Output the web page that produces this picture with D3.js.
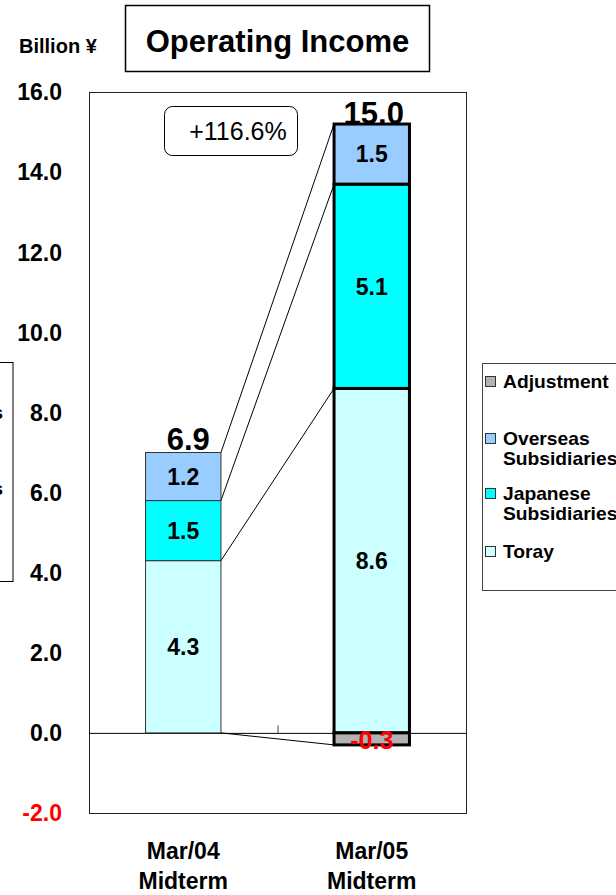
<!DOCTYPE html>
<html>
<head>
<meta charset="utf-8">
<script src="https://cdn.jsdelivr.net/npm/d3@7"></script>
<style>
  html, body { margin: 0; padding: 0; background: #fff; }
  svg { display: block; font-family: "Liberation Sans", Arial, sans-serif; }
</style>
</head>
<body>
<svg id="chart" width="616" height="895"></svg>
<script>
// Operating income by segment, billion yen
const categories = ["Mar/04 Midterm", "Mar/05 Midterm"];
const catLines = [["Mar/04", "Midterm"], ["Mar/05", "Midterm"]];
const toray = [4.3, 8.6];
const japaneseSubs = [1.5, 5.1];
const overseasSubs = [1.2, 1.5];
const adjustment = [0.0, -0.3];
const totals = ["6.9", "15.0"];
const growthLabel = "+116.6%";
const yTicks = [-2, 0, 2, 4, 6, 8, 10, 12, 14, 16];
const seriesNames = ["Toray", "Japanese Subsidiaries", "Overseas Subsidiaries"];
const seriesColors = { "Toray": "#CCFFFF", "Japanese Subsidiaries": "#00FFFF", "Overseas Subsidiaries": "#99CCFF", "Adjustment": "#B2B2B2" };
const legendItems = [["Adjustment"], ["Overseas", "Subsidiaries"], ["Japanese", "Subsidiaries"], ["Toray"]];
const legendKeys = ["Adjustment", "Overseas Subsidiaries", "Japanese Subsidiaries", "Toray"];

// one decimal, ASCII hyphen for negatives
const fmt = v => d3.format(".1f")(v).replace("\u2212", "-");

const svg = d3.select("#chart");
const plot = { left: 89, right: 466, top: 92, bottom: 813 };

const y = d3.scaleLinear().domain([-2, 16]).range([plot.bottom, plot.top]);
const x = d3.scaleBand().domain(categories).range([plot.left, plot.right]).padding(0);
const barW = x.bandwidth() * 0.4;
const barX = c => x(c) + (x.bandwidth() - barW) / 2;

// Partially visible panel at the left edge
svg.append("rect").attr("x", -120).attr("y", 362.5).attr("width", 133).attr("height", 219)
  .attr("fill", "#fff").attr("stroke", "#000").attr("stroke-width", 1);
[412, 488].forEach(yy => {
  svg.append("text").attr("x", 3).attr("y", yy).attr("dy", "0.35em").attr("text-anchor", "end")
    .attr("font-weight", "bold").attr("font-size", 19).text("s");
});

// Title
svg.append("rect").attr("x", 125.5).attr("y", 5.5).attr("width", 304).attr("height", 66)
  .attr("fill", "#fff").attr("stroke", "#000").attr("stroke-width", 1.5);
svg.append("text").attr("x", 277.5).attr("y", 52).attr("text-anchor", "middle")
  .attr("font-weight", "bold").attr("font-size", 31).text("Operating Income");
svg.append("text").attr("x", 19).attr("y", 53).attr("font-weight", "bold").attr("font-size", 20).text("Billion ¥");

// Plot frame
svg.append("rect").attr("x", plot.left + 0.5).attr("y", plot.top + 0.5)
  .attr("width", plot.right - plot.left).attr("height", plot.bottom - plot.top)
  .attr("fill", "#fff").attr("stroke", "#222").attr("stroke-width", 1);

// Y axis labels
svg.append("g").selectAll("text").data(yTicks).join("text")
  .attr("x", 62).attr("y", d => y(d)).attr("dy", "0.36em").attr("text-anchor", "end")
  .attr("font-weight", "bold").attr("font-size", 23)
  .attr("fill", d => d < 0 ? "#FF0000" : "#000")
  .text(d => fmt(d));

// Zero line with category divider tick
const zeroAxis = d3.axisBottom(x).tickSize(0).tickFormat("");
const zg = svg.append("g").attr("transform", `translate(0,${y(0) + 0.5})`).call(zeroAxis);
zg.select(".domain").attr("stroke", "#000").attr("d", `M${plot.left},0H${plot.right}`);
zg.append("line").attr("x1", x(categories[1]) + 0.5).attr("x2", x(categories[1]) + 0.5)
  .attr("y1", 0).attr("y2", -8).attr("stroke", "#444");

// Stacked segments
const stackData = categories.map((c, i) => ({ cat: c, "Toray": toray[i], "Japanese Subsidiaries": japaneseSubs[i], "Overseas Subsidiaries": overseasSubs[i] }));
const stacked = d3.stack().keys(seriesNames)(stackData);

// Connector lines between the two bars
const x0r = barX(categories[0]) + barW;
const x1l = barX(categories[1]);
const conn = [[0, adjustment[1]]];
stacked.forEach(s => conn.push([s[0][1], s[1][1]]));
svg.append("g").selectAll("line").data(conn).join("line")
  .attr("x1", x0r).attr("y1", d => y(d[0])).attr("x2", x1l).attr("y2", d => y(d[1]))
  .attr("stroke", "#000").attr("stroke-width", 1);

const strokeW = [1, 3];
const strokeC = ["#333", "#000"];
const segG = svg.append("g");
stacked.forEach(s => {
  s.forEach((d, i) => {
    const c = categories[i];
    segG.append("rect").attr("x", barX(c)).attr("y", y(d[1]))
      .attr("width", barW).attr("height", y(d[0]) - y(d[1]))
      .attr("fill", seriesColors[s.key]).attr("stroke", strokeC[i]).attr("stroke-width", strokeW[i]);
  });
});
// Adjustment (negative) segment
adjustment.forEach((v, i) => {
  if (v === 0) return;
  const c = categories[i];
  segG.append("rect").attr("x", barX(c)).attr("y", y(0)).attr("width", barW).attr("height", y(v) - y(0))
    .attr("fill", seriesColors["Adjustment"]).attr("stroke", strokeC[i]).attr("stroke-width", strokeW[i]);
});

// Segment value labels
stacked.forEach(s => {
  s.forEach((d, i) => {
    const c = categories[i];
    svg.append("text").attr("x", barX(c) + barW / 2).attr("y", (y(d[0]) + y(d[1])) / 2).attr("dy", "0.36em")
      .attr("text-anchor", "middle").attr("font-weight", "bold").attr("font-size", 23)
      .text(fmt(d[1] - d[0]));
  });
});
adjustment.forEach((v, i) => {
  if (v === 0) return;
  const c = categories[i];
  svg.append("text").attr("x", barX(c) + barW / 2).attr("y", (y(0) + y(v)) / 2 + 1).attr("dy", "0.36em")
    .attr("text-anchor", "middle").attr("font-weight", "bold").attr("font-size", 25).attr("fill", "#FF0000")
    .text(fmt(v));
});

// Totals above bars
const tops = categories.map((c, i) => toray[i] + japaneseSubs[i] + overseasSubs[i]);
const totalSize = [31, 31];
const totalGap = [3, 0];
const totalShift = [5, 2];
categories.forEach((c, i) => {
  svg.append("text").attr("x", barX(c) + barW / 2 + totalShift[i]).attr("y", y(tops[i]) - totalGap[i])
    .attr("text-anchor", "middle").attr("font-weight", "bold").attr("font-size", totalSize[i]).text(totals[i]);
});

// Growth callout
svg.append("rect").attr("x", 164.5).attr("y", 106.5).attr("width", 133).attr("height", 49).attr("rx", 8)
  .attr("fill", "#fff").attr("stroke", "#000").attr("stroke-width", 1);
svg.append("text").attr("x", 238).attr("y", 140).attr("text-anchor", "middle").attr("font-size", 25).text(growthLabel);

// Category labels
categories.forEach((c, i) => {
  const cx = x(c) + x.bandwidth() / 2;
  catLines[i].forEach((ln, j) => {
    svg.append("text").attr("x", cx).attr("y", 859 + j * 30).attr("text-anchor", "middle")
      .attr("font-weight", "bold").attr("font-size", 23).text(ln);
  });
});

// Legend
const lg = svg.append("g");
lg.append("rect").attr("x", 482.5).attr("y", 363.5).attr("width", 200).attr("height", 227)
  .attr("fill", "#fff").attr("stroke", "#444").attr("stroke-width", 1);
const legendY = [382, 439, 494, 552];
legendItems.forEach((lines, k) => {
  const yy = legendY[k];
  lg.append("rect").attr("x", 485.5).attr("y", yy - 5.5).attr("width", 10).attr("height", 10)
    .attr("fill", seriesColors[legendKeys[k]]).attr("stroke", "#333").attr("stroke-width", 1);
  lines.forEach((ln, j) => {
    lg.append("text").attr("transform", `translate(503,${yy + j * 19.5}) scale(1.1,1)`).attr("dy", "0.36em")
      .attr("font-weight", "bold").attr("font-size", 17.5).text(ln);
  });
});
</script>
</body>
</html>
